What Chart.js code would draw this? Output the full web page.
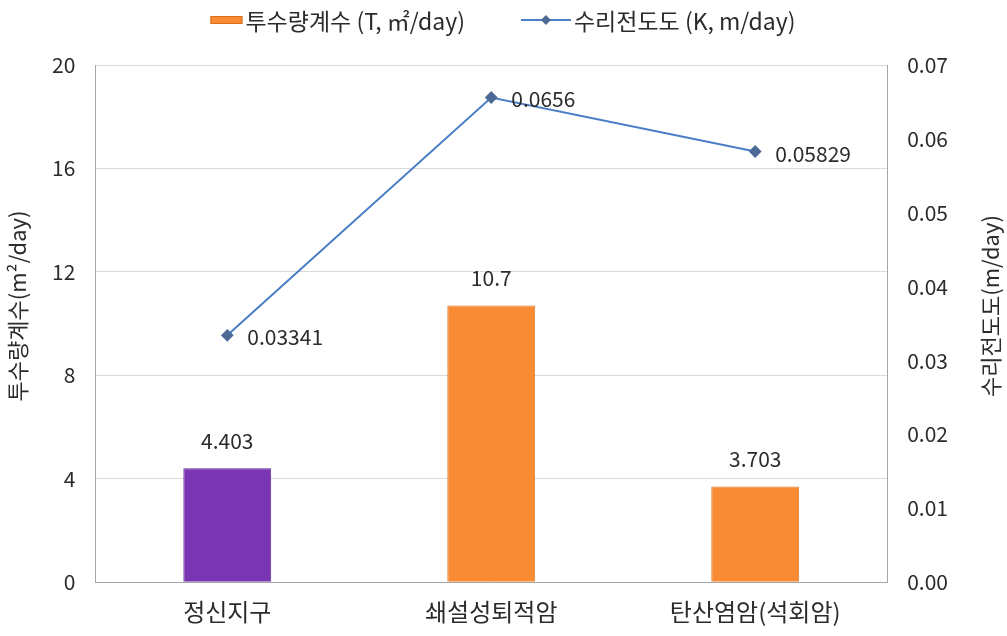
<!DOCTYPE html>
<html>
<head>
<meta charset="utf-8">
<script src="https://cdn.jsdelivr.net/npm/chart.js@4.4.1/dist/chart.umd.min.js"></script>
<style>
body{margin:0;background:#fff}
#wrap{width:1007px;height:636px}
</style>
</head>
<body>
<div id="wrap"><canvas id="c" width="1007" height="636"></canvas></div>
<script>
// data
let areas=["정신지구","쇄설성퇴적암","탄산염암(석회암)"]
let transmissivity=[4.403,10.7,3.703]
let conductivity=[0.03341,0.0656,0.05829]
let tLabels=["4.403","10.7","3.703"]
let kLabels=["0.03341","0.0656","0.05829"]
let legendNames=["투수량계수 (T, ㎡/day)","수리전도도 (K, m/day)"]
let leftTitle="투수량계수(m²/day)"
let rightTitle="수리전도도(m/day)"

let font="'Noto Sans CJK KR','Noto Sans',sans-serif"
let txt="#2b2b2b"
let purple="#7a35b3"
let orange="#f98b35"
let blue="#4a7ec6"
let marker="#4d6a96"

// legend, axis titles and value labels drawn by hand
let extras={
id:"extras",
afterDatasetsDraw(chart){
let ctx=chart.ctx
ctx.save()
ctx.font="21px "+font
ctx.fillStyle=txt
chart.getDatasetMeta(0).data.forEach((b,i)=>{
ctx.textAlign="center"
ctx.textBaseline="middle"
ctx.fillText(tLabels[i],b.x,b.y-27)
})
chart.getDatasetMeta(1).data.forEach((p,i)=>{
ctx.textAlign="left"
ctx.textBaseline="middle"
ctx.fillText(kLabels[i],p.x+20,p.y+2)
})

// axis titles, both read bottom to top
let cy=306
ctx.textAlign="center"
ctx.textBaseline="middle"
ctx.font="22px "+font
ctx.save()
ctx.translate(18,cy)
ctx.rotate(-Math.PI/2)
ctx.fillText(leftTitle,0,0)
ctx.restore()
ctx.save()
ctx.translate(991,cy)
ctx.rotate(-Math.PI/2)
ctx.fillText(rightTitle,0,0)
ctx.restore()

// legend
ctx.font="23px "+font
let w1=ctx.measureText(legendNames[0]).width
let w2=ctx.measureText(legendNames[1]).width
let sw1=32,sw2=50,gap=3,between=56
let total=sw1+gap+w1+between+sw2+gap+w2
let x=503-total/2
let y=20
ctx.fillStyle=orange
ctx.fillRect(x,y-4,sw1,8)
ctx.strokeStyle="#d9701e"
ctx.lineWidth=1
ctx.strokeRect(x+0.5,y-3.5,sw1-1,7)
x+=sw1+gap
ctx.fillStyle=txt
ctx.textAlign="left"
ctx.fillText(legendNames[0],x,y+1)
x+=w1+between
ctx.strokeStyle=blue
ctx.lineWidth=2
ctx.beginPath();ctx.moveTo(x,y);ctx.lineTo(x+sw2,y);ctx.stroke()
ctx.fillStyle=marker
let mx=x+sw2/2
ctx.beginPath();ctx.moveTo(mx,y-5);ctx.lineTo(mx+5,y);ctx.lineTo(mx,y+5);ctx.lineTo(mx-5,y);ctx.closePath();ctx.fill()
x+=sw2+gap
ctx.fillStyle=txt
ctx.fillText(legendNames[1],x,y+1)
ctx.restore()
}
}

new Chart(document.getElementById("c"),{
data:{
labels:areas,
datasets:[
{
type:"bar",
label:legendNames[0],
data:transmissivity,
backgroundColor:[purple,orange,orange],
borderColor:["#5d2690","#e07a28","#e07a28"],
borderWidth:1,
barPercentage:0.333,
categoryPercentage:1,
yAxisID:"y",
order:2
},
{
type:"line",
label:legendNames[1],
data:conductivity,
borderColor:blue,
borderWidth:2,
pointStyle:"rectRot",
pointRadius:5,
pointBackgroundColor:marker,
pointBorderColor:marker,
yAxisID:"y1",
order:1
}
]
},
options:{
responsive:false,
animation:false,
layout:{padding:{left:32,right:39,top:65,bottom:3}},
plugins:{
legend:{display:false},
tooltip:{enabled:false}
},
scales:{
x:{
grid:{display:false},
border:{color:"#a6a6a6",width:1},
ticks:{font:{size:24,family:font},color:txt,padding:7}
},
y:{
position:"left",
min:0,max:20,
ticks:{stepSize:4,font:{size:21,family:font},color:txt,padding:20},
grid:{color:"#d9d9d9",drawTicks:false},
border:{color:"#a6a6a6"}
},
y1:{
position:"right",
min:0,max:0.07,
ticks:{stepSize:0.01,font:{size:21,family:font},color:txt,padding:20,callback:v=>v.toFixed(2)},
grid:{display:false,drawTicks:false},
border:{color:"#a6a6a6"}
}
}
},
plugins:[extras]
})
</script>
</body>
</html>
